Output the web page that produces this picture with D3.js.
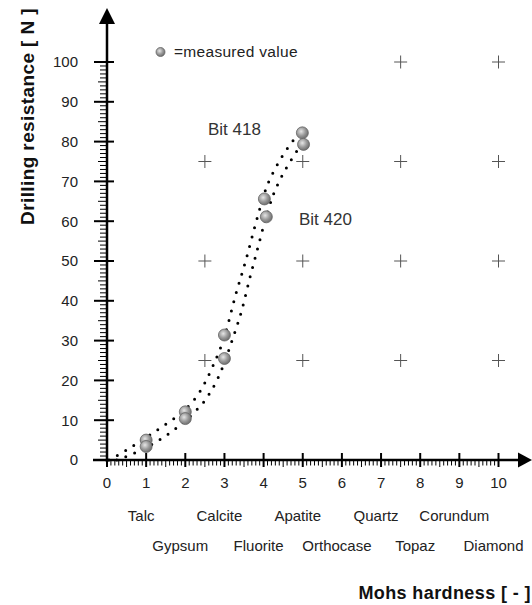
<!DOCTYPE html>
<html><head><meta charset="utf-8">
<script src="https://cdn.jsdelivr.net/npm/d3@7"></script>
<style>body{margin:0;background:#fff}svg{display:block}</style>
</head><body>
<svg id="c" width="532" height="605"></svg>
<script>
// ---- data ----
const xTicks = [0,1,2,3,4,5,6,7,8,9,10];
const yTicks = [0,10,20,30,40,50,60,70,80,90,100];
const mineralsRow1 = ["Talc","Calcite","Apatite","Quartz","Corundum"];
const mineralsRow1X = [1,3,5,7,9];
const mineralsRow2 = ["Gypsum","Fluorite","Orthocase","Topaz","Diamond"];
const mineralsRow2X = [2,4,6,8,10];
const measuredX = [1,1,2,2,3,3,4.02,4.07,4.99,5.02];
const measuredY = [5.0,3.4,12.1,10.4,31.4,25.5,65.6,61.1,82.2,79.3];
const bit418X = [0.05,0.5,1.0,1.5,2.0,2.4,2.7,3.0,3.3,3.55,3.8,4.07,4.3,4.58,4.95];
const bit418Y = [0,2.5,5.7,9,12.7,17.6,23.5,31,42,50.3,59.5,68.4,73.3,77.9,82.6];
const bit420X = [0.25,0.6,1.0,1.33,1.78,2.19,2.54,2.81,3.0,3.2,3.45,3.65,3.86,4.0,4.23,4.46,4.73,4.97];
const bit420Y = [0,1.3,3.1,5.0,8.1,11.6,15.5,20.1,24.5,30.2,37.9,45.8,53.6,58.8,66.2,71.2,75.8,79.4];
const plusX = [7.5,10,2.5,5,7.5,10,2.5,5,7.5,10,2.5,5,7.5,10];
const plusY = [100,100,75,75,75,75,50,50,50,50,25,25,25,25];
const seriesLabels = ["Bit 418","Bit 420"];
const legendText = "=measured value";
const xTitle = "Mohs hardness [ - ]";
const yTitle = "Drilling resistance [ N ]";

const svg = d3.select("#c");
const F = "Liberation Sans, Arial, Helvetica, sans-serif";
const x = d3.scaleLinear().domain([0,10]).range([107,498.5]);
const y = d3.scaleLinear().domain([0,100]).range([460,62]);

// gradient
const defs = svg.append("defs");
const g = defs.append("radialGradient").attr("id","ball").attr("cx","40%").attr("cy","38%").attr("r","65%");
g.append("stop").attr("offset","0%").attr("stop-color","#e6e6e6");
g.append("stop").attr("offset","55%").attr("stop-color","#9a9a9a");
g.append("stop").attr("offset","100%").attr("stop-color","#6a6a6a");

// plus markers
const ps = 6.5;
svg.append("g").selectAll("path").data(plusX.map((v,i)=>[v,plusY[i]])).join("path")
  .attr("d",d=>`M${x(d[0])-ps},${y(d[1])}H${x(d[0])+ps}M${x(d[0])},${y(d[1])-ps}V${y(d[1])+ps}`)
  .attr("stroke","#555").attr("stroke-width",1).attr("fill","none");

// minor ticks y
const yMinor = d3.range(0,101,1).filter(v=>v%10!==0);
svg.append("g").selectAll("line").data(yMinor).join("line")
  .attr("x1",d=>d%5===0?98:100).attr("x2",107).attr("y1",d=>y(d)).attr("y2",d=>y(d))
  .attr("stroke","#000").attr("stroke-width",1);
// minor ticks x
const xMinor = d3.range(1,100).filter(v=>v%10!==0).map(v=>v/10);
svg.append("g").selectAll("line").data(xMinor).join("line")
  .attr("x1",d=>x(d)).attr("x2",d=>x(d)).attr("y1",460)
  .attr("y2",d=>Math.round(d*10)%5===0?467:465.5)
  .attr("stroke","#000").attr("stroke-width",1);

// major ticks
svg.append("g").selectAll("line").data(yTicks).join("line")
  .attr("x1",94).attr("x2",114).attr("y1",d=>y(d)).attr("y2",d=>y(d))
  .attr("stroke","#000").attr("stroke-width",2);
svg.append("g").selectAll("line").data(xTicks).join("line")
  .attr("x1",d=>x(d)).attr("x2",d=>x(d)).attr("y1",453).attr("y2",467)
  .attr("stroke","#000").attr("stroke-width",2);

// axis lines + arrows
svg.append("line").attr("x1",x(0)).attr("x2",x(0)).attr("y1",462).attr("y2",20)
  .attr("stroke","#000").attr("stroke-width",2.5);
svg.append("path").attr("d",`M${x(0)},8L${x(0)-8},24L${x(0)+8},24Z`).attr("fill","#000");
svg.append("line").attr("x1",93).attr("x2",522).attr("y1",460).attr("y2",460)
  .attr("stroke","#000").attr("stroke-width",2.5);
svg.append("path").attr("d",`M532,460L518,452.5L518,467.5Z`).attr("fill","#000");

// tick labels
svg.append("g").selectAll("text").data(yTicks).join("text")
  .attr("x",78).attr("y",d=>y(d)).attr("dy","0.36em").attr("text-anchor","end")
  .attr("font-family",F).attr("font-size",15).attr("fill","#222").text(d=>d);
svg.append("g").selectAll("text").data(xTicks).join("text")
  .attr("x",d=>x(d)).attr("y",488).attr("text-anchor","middle")
  .attr("font-family",F).attr("font-size",15).attr("fill","#222").text(d=>d);

// mineral names
svg.append("g").selectAll("text").data(mineralsRow1).join("text")
  .attr("x",(d,i)=>x(mineralsRow1X[i])-5).attr("y",521).attr("text-anchor","middle")
  .attr("font-family",F).attr("font-size",15).attr("fill","#222").text(d=>d);
svg.append("g").selectAll("text").data(mineralsRow2).join("text")
  .attr("x",(d,i)=>x(mineralsRow2X[i])-5).attr("y",551).attr("text-anchor","middle")
  .attr("font-family",F).attr("font-size",15).attr("fill","#222").text(d=>d);

// titles
svg.append("text").attr("x",531).attr("y",599).attr("text-anchor","end")
  .attr("font-family",F).attr("font-weight","bold").attr("font-size",18)
  .attr("letter-spacing","0.4px").attr("fill","#111").text(xTitle);
svg.append("text").attr("transform","translate(34,116.5) rotate(-90)").attr("text-anchor","middle")
  .attr("font-family",F).attr("font-weight","bold").attr("font-size",19)
  .attr("letter-spacing","0.4px").attr("fill","#111").text(yTitle);

// dotted curves
const line = d3.line().x(d=>x(d[0])).y(d=>y(d[1])).curve(d3.curveMonotoneX);
[[bit418X,bit418Y],[bit420X,bit420Y]].forEach(([xs,ys])=>{
  svg.append("path").attr("d",line(xs.map((v,i)=>[v,ys[i]])))
    .attr("fill","none").attr("stroke","#000").attr("stroke-width",3)
    .attr("stroke-linecap","round").attr("stroke-dasharray","0,9.6");
});

// measured points
svg.append("g").selectAll("circle").data(measuredX.map((v,i)=>[v,measuredY[i]])).join("circle")
  .attr("cx",d=>x(d[0])).attr("cy",d=>y(d[1])).attr("r",6)
  .attr("fill","url(#ball)").attr("stroke","#666").attr("stroke-width",0.8);

// series labels
svg.append("text").attr("x",208).attr("y",135).attr("font-family",F).attr("font-size",17)
  .attr("fill","#333").text(seriesLabels[0]);
svg.append("text").attr("x",299).attr("y",225).attr("font-family",F).attr("font-size",17)
  .attr("fill","#333").text(seriesLabels[1]);

// legend
svg.append("circle").attr("cx",160.5).attr("cy",52).attr("r",4.5)
  .attr("fill","url(#ball)").attr("stroke","#666").attr("stroke-width",0.8);
svg.append("text").attr("x",174).attr("y",57).attr("font-family",F).attr("font-size",15.5)
  .attr("letter-spacing","0.3px").attr("fill","#222").text(legendText);
</script>
</body></html>
